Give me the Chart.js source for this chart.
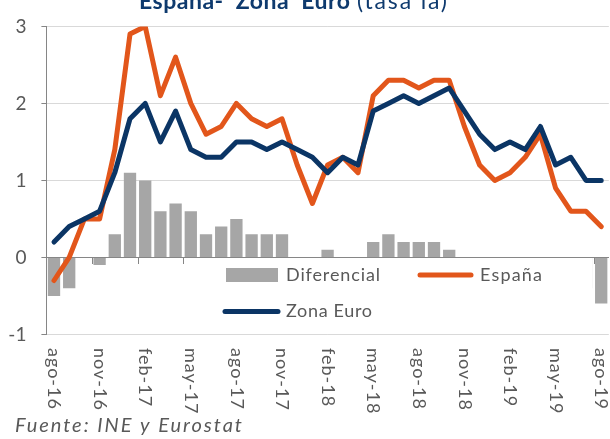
<!DOCTYPE html>
<html><head><meta charset="utf-8">
<script src="https://cdn.jsdelivr.net/npm/chart.js@4.4.1/dist/chart.umd.min.js"></script>
<style>html,body{margin:0;padding:0;background:#fff;}#wrap{width:610px;height:439px;position:relative;}</style>
</head><body><div id="wrap"><canvas id="c" width="610" height="439"></canvas></div>
<script>
const categories = ['ago-16','sep-16','oct-16','nov-16','dic-16','ene-17','feb-17','mar-17','abr-17','may-17','jun-17','jul-17','ago-17','sep-17','oct-17','nov-17','dic-17','ene-18','feb-18','mar-18','abr-18','may-18','jun-18','jul-18','ago-18','sep-18','oct-18','nov-18','dic-18','ene-19','feb-19','mar-19','abr-19','may-19','jun-19','jul-19','ago-19'];
const tickLabels = ['ago-16','nov-16','feb-17','may-17','ago-17','nov-17','feb-18','may-18','ago-18','nov-18','feb-19','may-19','ago-19'];
const espana = [-0.3,0.0,0.5,0.5,1.4,2.9,3.0,2.1,2.6,2.0,1.6,1.7,2.0,1.8,1.7,1.8,1.2,0.7,1.2,1.3,1.1,2.1,2.3,2.3,2.2,2.3,2.3,1.7,1.2,1.0,1.1,1.3,1.6,0.9,0.6,0.6,0.4];
const zonaEuro = [0.2,0.4,0.5,0.6,1.1,1.8,2.0,1.5,1.9,1.4,1.3,1.3,1.5,1.5,1.4,1.5,1.4,1.3,1.1,1.3,1.2,1.9,2.0,2.1,2.0,2.1,2.2,1.9,1.6,1.4,1.5,1.4,1.7,1.2,1.3,1.0,1.0];
const diferencial = [-0.5,-0.4,0.0,-0.1,0.3,1.1,1.0,0.6,0.7,0.6,0.3,0.4,0.5,0.3,0.3,0.3,-0.2,-0.6,0.1,0.0,-0.1,0.2,0.3,0.2,0.2,0.2,0.1,-0.2,-0.4,-0.4,-0.4,-0.1,-0.1,-0.3,-0.7,-0.4,-0.6];
const yMin = -1, yMax = 3, yStep = 1;
const titleBold = 'España-  Zona  Euro';
const titleRest = '(tasa ia)';
const sourceText = 'Fuente: INE y Eurostat';

const C_ORANGE = '#E2561B', C_NAVY = '#0B3565', C_BAR = '#A6A6A6', C_TEXT = '#595959', C_AXIS = '#868686', C_GRID = '#D9D9D9', C_TITLE = '#0E3A6E';
const FONT = 'Lato';

function fitText(ctx, text, x, y, width) {
  ctx.letterSpacing = '0px';
  const w = ctx.measureText(text).width;
  const ls = Math.max(0, (width - w) / Math.max(1, text.length - 1));
  ctx.letterSpacing = ls.toFixed(2) + 'px';
  ctx.fillText(text, x, y);
  ctx.letterSpacing = '0px';
}

const deco = {
  id: 'deco',
  afterDatasetDraw(chart, args) {
    // redraw zero axis line above the bars, below the lines
    if (chart.data.datasets[args.index].type !== 'bar') return;
    const ctx = chart.ctx, ys = chart.scales.y, a = chart.chartArea;
    const y0 = Math.round(ys.getPixelForValue(0)) + 0.5;
    ctx.save();
    ctx.strokeStyle = C_AXIS; ctx.lineWidth = 1;
    ctx.beginPath(); ctx.moveTo(a.left, y0); ctx.lineTo(a.right, y0); ctx.stroke();
    ctx.restore();
  },
  afterDatasetsDraw(chart) {
    const ctx = chart.ctx, xs = chart.scales.x, ys = chart.scales.y;
    const y0 = Math.round(ys.getPixelForValue(0));
    ctx.save();
    ctx.strokeStyle = C_AXIS; ctx.lineWidth = 1;
    for (let i = 2; i < categories.length - 1; i += 3) {
      const xb = Math.round((xs.getPixelForValue(i) + xs.getPixelForValue(i + 1)) / 2) + 0.5;
      ctx.beginPath(); ctx.moveTo(xb, y0); ctx.lineTo(xb, y0 + 7); ctx.stroke();
    }
    // legend box (white fill, inside plot)
    ctx.fillStyle = '#fff';
    ctx.fillRect(188, y0 + 1, 404.5, 70);
    ctx.font = '18px ' + FONT; ctx.textBaseline = 'middle'; ctx.textAlign = 'left';
    ctx.fillStyle = C_BAR; ctx.fillRect(226, 268, 52, 14);
    ctx.fillStyle = C_TEXT; fitText(ctx, 'Diferencial', 286, 275, 94);
    ctx.lineCap = 'round'; ctx.lineWidth = 5;
    ctx.strokeStyle = C_ORANGE; ctx.beginPath(); ctx.moveTo(420, 275); ctx.lineTo(471, 275); ctx.stroke();
    fitText(ctx, 'España', 480, 275, 62);
    ctx.strokeStyle = C_NAVY; ctx.beginPath(); ctx.moveTo(225, 311.5); ctx.lineTo(278, 311.5); ctx.stroke();
    fitText(ctx, 'Zona Euro', 286, 311.5, 86);
    ctx.restore();
  },
  afterDraw(chart) {
    const ctx = chart.ctx, xs = chart.scales.x;
    ctx.save();
    ctx.font = '18px ' + FONT; ctx.fillStyle = C_TEXT; ctx.textAlign = 'left'; ctx.textBaseline = 'middle';
    for (let i = 0; i < categories.length; i++) {
      if (!tickLabels.includes(categories[i])) continue;
      const x = xs.getPixelForValue(i);
      ctx.save(); ctx.translate(x, 348); ctx.rotate(Math.PI / 2);
      ctx.letterSpacing = '1px';
      ctx.fillText(categories[i], 0, 0); ctx.restore();
    }
    ctx.textBaseline = 'alphabetic';
    ctx.fillStyle = C_TITLE;
    ctx.font = 'bold 23px ' + FONT; fitText(ctx, titleBold, 139, 9, 211);
    ctx.font = '23px ' + FONT; fitText(ctx, titleRest, 357, 9, 90);
    ctx.font = 'italic 20px ' + FONT; ctx.fillStyle = C_TEXT;
    fitText(ctx, sourceText, 15, 432, 227);
    ctx.restore();
  }
};

new Chart(document.getElementById('c'), {
  data: {
    labels: categories,
    datasets: [
      { type: 'line', label: 'Zona Euro', data: zonaEuro, borderColor: C_NAVY, borderWidth: 5, pointRadius: 0, tension: 0, borderCapStyle: 'round', borderJoinStyle: 'round', order: 0 },
      { type: 'line', label: 'España', data: espana, borderColor: C_ORANGE, borderWidth: 5, pointRadius: 0, tension: 0, borderCapStyle: 'round', borderJoinStyle: 'round', order: 1 },
      { type: 'bar', label: 'Diferencial', data: diferencial, backgroundColor: C_BAR, barPercentage: 0.81, categoryPercentage: 1, order: 2 }
    ]
  },
  options: {
    responsive: false, animation: false, devicePixelRatio: 1,
    layout: { padding: { top: 20.5, right: 1.2, left: 0, bottom: 0 } },
    plugins: { legend: { display: false }, title: { display: false }, tooltip: { enabled: false } },
    scales: {
      x: {
        type: 'category', offset: true,
        grid: { display: false }, border: { display: false },
        ticks: { display: false },
        afterFit(s) { s.height = 104.6; }
      },
      y: {
        min: yMin, max: yMax,
        ticks: { stepSize: yStep, color: C_TEXT, font: { family: FONT, size: 19 }, padding: 15 },
        grid: { color: c => c.tick && c.tick.value === 0 ? C_AXIS : C_GRID, lineWidth: 1, tickLength: 5, tickColor: C_AXIS },
        border: { color: C_AXIS, width: 1 },
        afterFit(s) { s.width = 46.4; }
      }
    }
  },
  plugins: [deco]
});
</script></body></html>
